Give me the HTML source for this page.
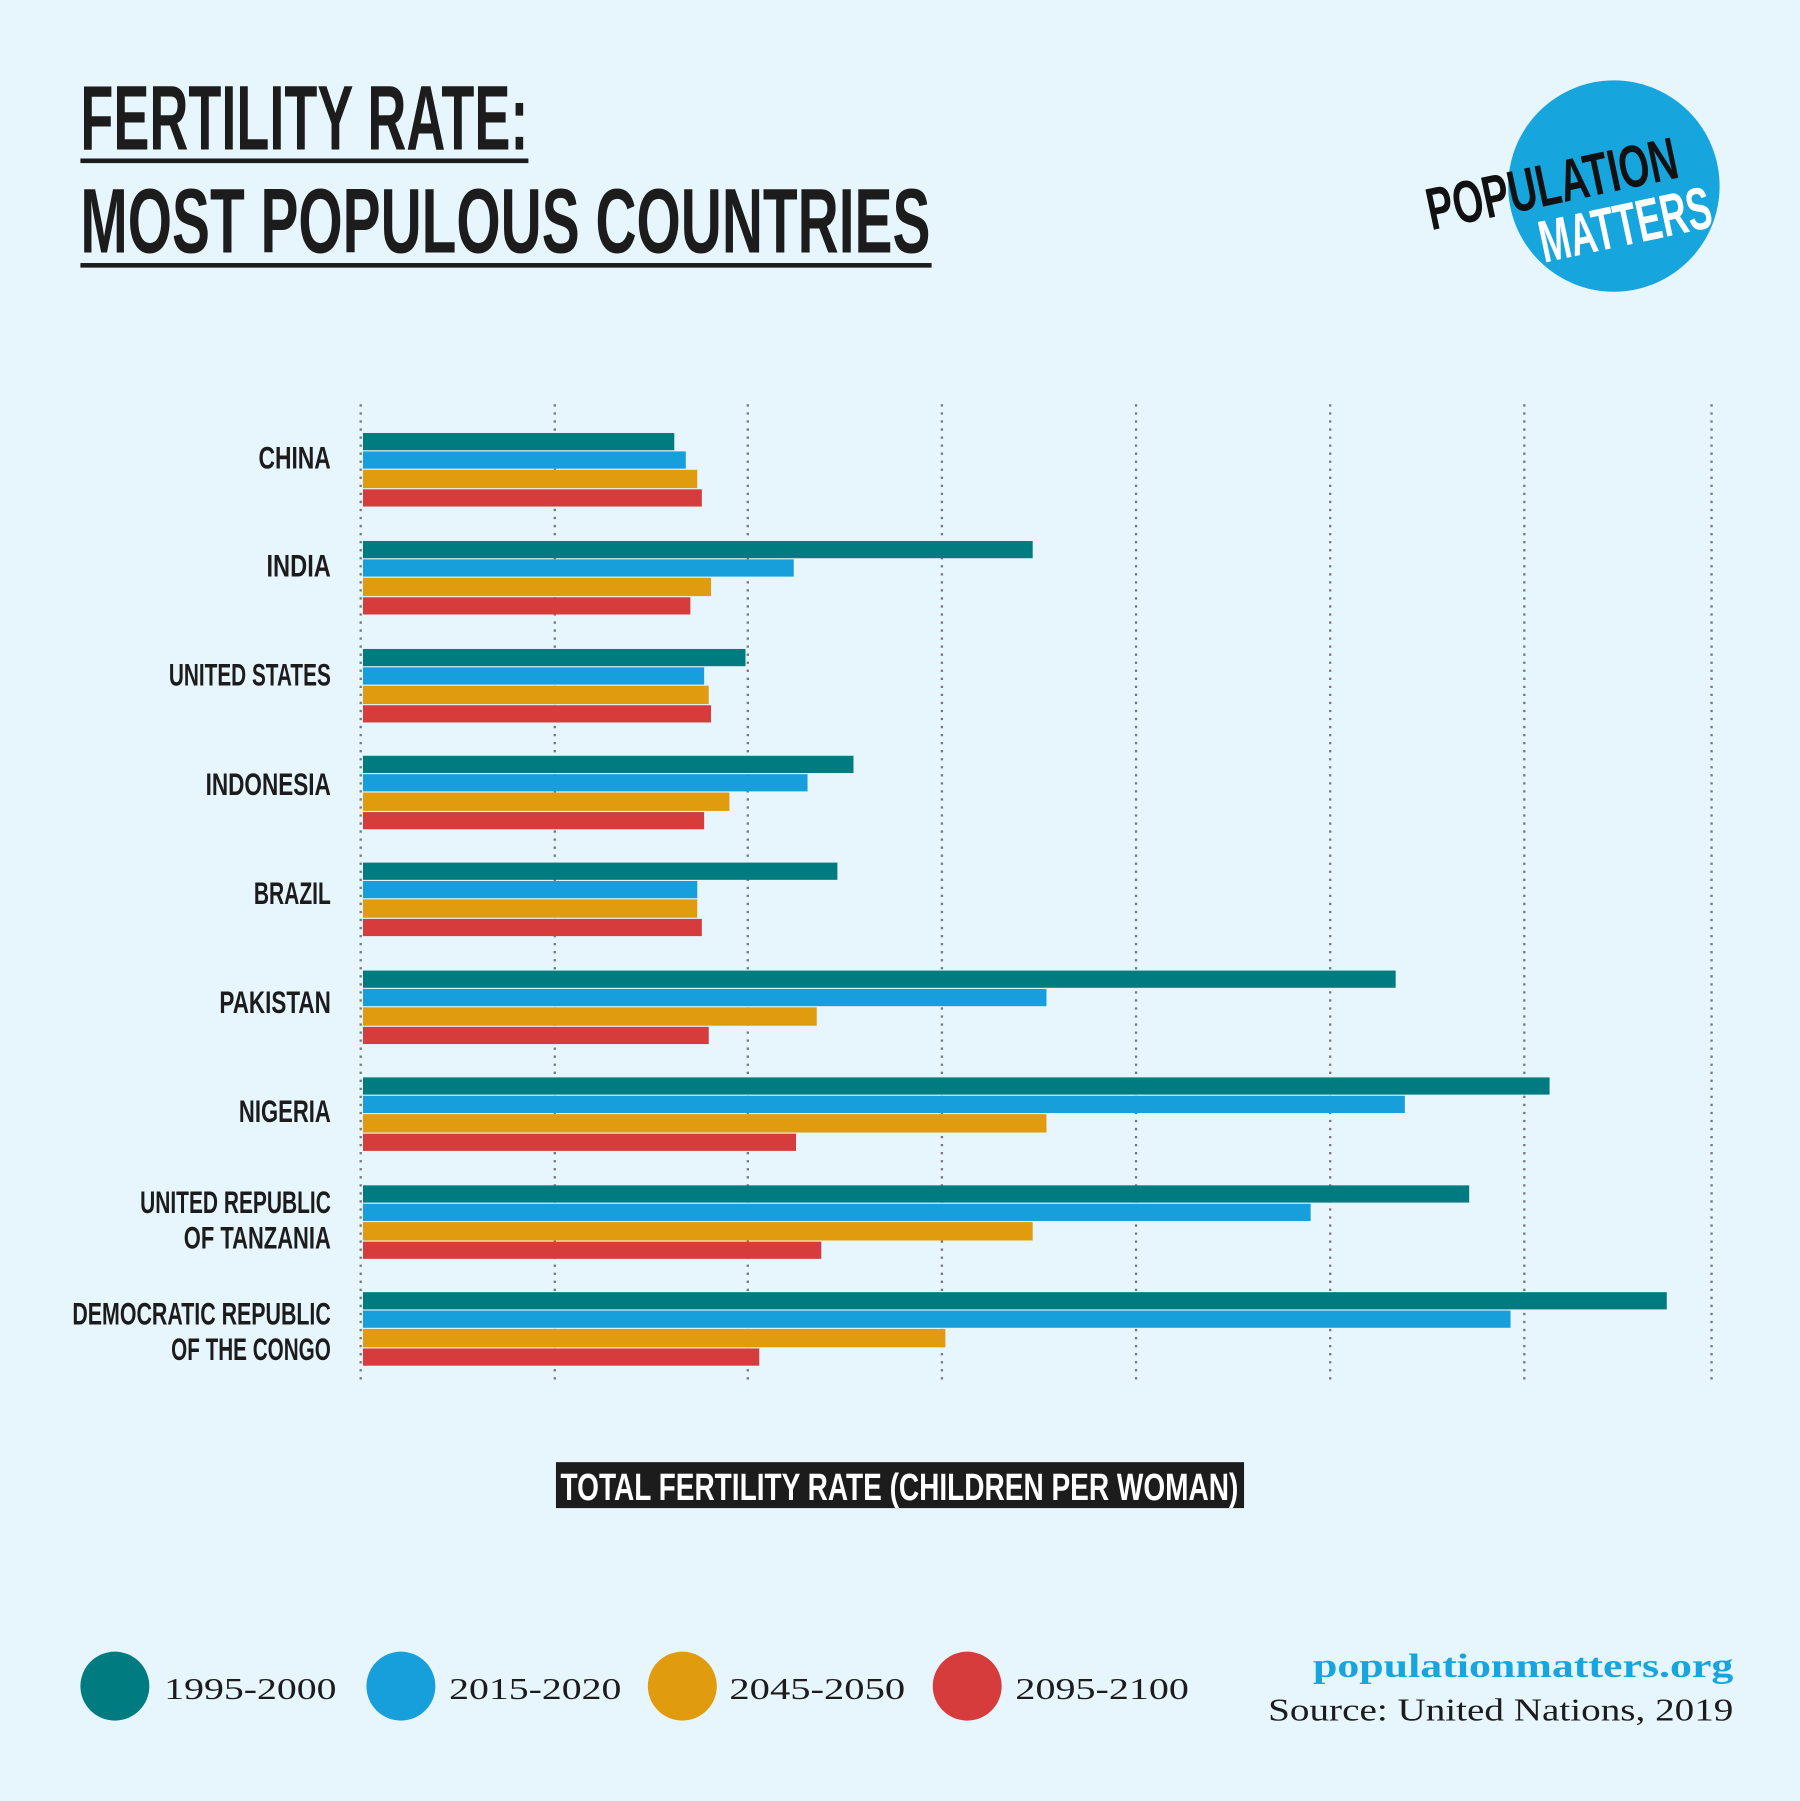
<!DOCTYPE html>
<html><head><meta charset="utf-8"><style>
html,body{margin:0;padding:0;background:#e7f5fd;}
svg{display:block;}
.c{font-family:"Liberation Sans Narrow","Liberation Sans",sans-serif;font-weight:bold;}
.s{font-family:"Liberation Serif",serif;}
</style></head><body>
<svg width="1800" height="1801" viewBox="0 0 1567 1568" preserveAspectRatio="none" xmlns="http://www.w3.org/2000/svg">
<rect width="1567" height="1568" fill="#e7f5fd"/>
<text class="c" x="70" y="130" font-size="80" fill="#1c1c1c" textLength="390" lengthAdjust="spacingAndGlyphs">FERTILITY RATE:</text>
<rect x="70" y="138" width="390" height="4" fill="#1c1c1c"/>
<text class="c" x="70" y="220" font-size="80" fill="#1c1c1c" textLength="740" lengthAdjust="spacingAndGlyphs">MOST POPULOUS COUNTRIES</text>
<rect x="70" y="229" width="741" height="4" fill="#1c1c1c"/>
<circle cx="1405" cy="162" r="92" fill="#17a5de"/>
<g transform="rotate(-12 1350 160)">
<text class="c" x="1240" y="178" font-size="52" fill="#111" textLength="222" lengthAdjust="spacingAndGlyphs">POPULATION</text>
<text class="c" x="1330" y="226" font-size="52" fill="#fff" textLength="152" lengthAdjust="spacingAndGlyphs">MATTERS</text>
</g>
<g stroke="#777" stroke-width="2" stroke-dasharray="2,5">
<line x1="314" y1="352" x2="314" y2="1205"/><line x1="483" y1="352" x2="483" y2="1205"/>
<line x1="651" y1="352" x2="651" y2="1205"/><line x1="820" y1="352" x2="820" y2="1205"/>
<line x1="989" y1="352" x2="989" y2="1205"/><line x1="1158" y1="352" x2="1158" y2="1205"/>
<line x1="1327" y1="352" x2="1327" y2="1205"/><line x1="1490" y1="352" x2="1490" y2="1205"/>
</g>
<g>
<rect x="316" y="377" width="271" height="15" fill="#007b7f"/><rect x="316" y="393" width="281" height="15" fill="#179fdb"/><rect x="316" y="409" width="291" height="16" fill="#e09b0f"/><rect x="316" y="426" width="295" height="15" fill="#d63c3c"/>
<rect x="316" y="471" width="583" height="15" fill="#007b7f"/><rect x="316" y="487" width="375" height="15" fill="#179fdb"/><rect x="316" y="503" width="303" height="16" fill="#e09b0f"/><rect x="316" y="520" width="285" height="15" fill="#d63c3c"/>
<rect x="316" y="565" width="333" height="15" fill="#007b7f"/><rect x="316" y="581" width="297" height="15" fill="#179fdb"/><rect x="316" y="597" width="301" height="16" fill="#e09b0f"/><rect x="316" y="614" width="303" height="15" fill="#d63c3c"/>
<rect x="316" y="658" width="427" height="15" fill="#007b7f"/><rect x="316" y="674" width="387" height="15" fill="#179fdb"/><rect x="316" y="690" width="319" height="16" fill="#e09b0f"/><rect x="316" y="707" width="297" height="15" fill="#d63c3c"/>
<rect x="316" y="751" width="413" height="15" fill="#007b7f"/><rect x="316" y="767" width="291" height="15" fill="#179fdb"/><rect x="316" y="783" width="291" height="16" fill="#e09b0f"/><rect x="316" y="800" width="295" height="15" fill="#d63c3c"/>
<rect x="316" y="845" width="899" height="15" fill="#007b7f"/><rect x="316" y="861" width="595" height="15" fill="#179fdb"/><rect x="316" y="877" width="395" height="16" fill="#e09b0f"/><rect x="316" y="894" width="301" height="15" fill="#d63c3c"/>
<rect x="316" y="938" width="1033" height="15" fill="#007b7f"/><rect x="316" y="954" width="907" height="15" fill="#179fdb"/><rect x="316" y="970" width="595" height="16" fill="#e09b0f"/><rect x="316" y="987" width="377" height="15" fill="#d63c3c"/>
<rect x="316" y="1032" width="963" height="15" fill="#007b7f"/><rect x="316" y="1048" width="825" height="15" fill="#179fdb"/><rect x="316" y="1064" width="583" height="16" fill="#e09b0f"/><rect x="316" y="1081" width="399" height="15" fill="#d63c3c"/>
<rect x="316" y="1125" width="1135" height="15" fill="#007b7f"/><rect x="316" y="1141" width="999" height="15" fill="#179fdb"/><rect x="316" y="1157" width="507" height="16" fill="#e09b0f"/><rect x="316" y="1174" width="345" height="15" fill="#d63c3c"/>
</g>
<g class="c" font-size="27" fill="#1c1c1c" text-anchor="end" lengthAdjust="spacingAndGlyphs">
<text x="288" y="408" textLength="63" lengthAdjust="spacingAndGlyphs">CHINA</text>
<text x="288" y="502" textLength="56" lengthAdjust="spacingAndGlyphs">INDIA</text>
<text x="288" y="597" textLength="141" lengthAdjust="spacingAndGlyphs">UNITED STATES</text>
<text x="288" y="692" textLength="109" lengthAdjust="spacingAndGlyphs">INDONESIA</text>
<text x="288" y="787" textLength="67" lengthAdjust="spacingAndGlyphs">BRAZIL</text>
<text x="288" y="882" textLength="97" lengthAdjust="spacingAndGlyphs">PAKISTAN</text>
<text x="288" y="977" textLength="80" lengthAdjust="spacingAndGlyphs">NIGERIA</text>
<text x="288" y="1056" textLength="166" lengthAdjust="spacingAndGlyphs">UNITED REPUBLIC</text>
<text x="288" y="1087" textLength="128" lengthAdjust="spacingAndGlyphs">OF TANZANIA</text>
<text x="288" y="1153" textLength="225" lengthAdjust="spacingAndGlyphs">DEMOCRATIC REPUBLIC</text>
<text x="288" y="1184" textLength="139" lengthAdjust="spacingAndGlyphs">OF THE CONGO</text>
</g>
<rect x="484" y="1273" width="599" height="40" fill="#1c1c1c"/>
<text class="c" x="783" y="1306" font-size="33" fill="#fff" text-anchor="middle" textLength="590" lengthAdjust="spacingAndGlyphs">TOTAL FERTILITY RATE (CHILDREN PER WOMAN)</text>
<circle cx="100" cy="1468" r="30" fill="#007b7f"/>
<circle cx="349" cy="1468" r="30" fill="#179fdb"/>
<circle cx="594" cy="1468" r="30" fill="#e09b0f"/>
<circle cx="842" cy="1468" r="30" fill="#d63c3c"/>
<g class="s" font-size="27" fill="#1c1c1c">
<text x="143" y="1479" textLength="150" lengthAdjust="spacingAndGlyphs">1995-2000</text>
<text x="391" y="1479" textLength="150" lengthAdjust="spacingAndGlyphs">2015-2020</text>
<text x="635" y="1479" textLength="153" lengthAdjust="spacingAndGlyphs">2045-2050</text>
<text x="884" y="1479" textLength="151" lengthAdjust="spacingAndGlyphs">2095-2100</text>
</g>
<text class="s" x="1143" y="1460" font-size="29" font-weight="bold" fill="#17a5de" textLength="366" lengthAdjust="spacingAndGlyphs">populationmatters.org</text>
<text class="s" x="1104" y="1498" font-size="28" fill="#1c1c1c" textLength="405" lengthAdjust="spacingAndGlyphs">Source: United Nations, 2019</text>
</svg>
</body></html>
